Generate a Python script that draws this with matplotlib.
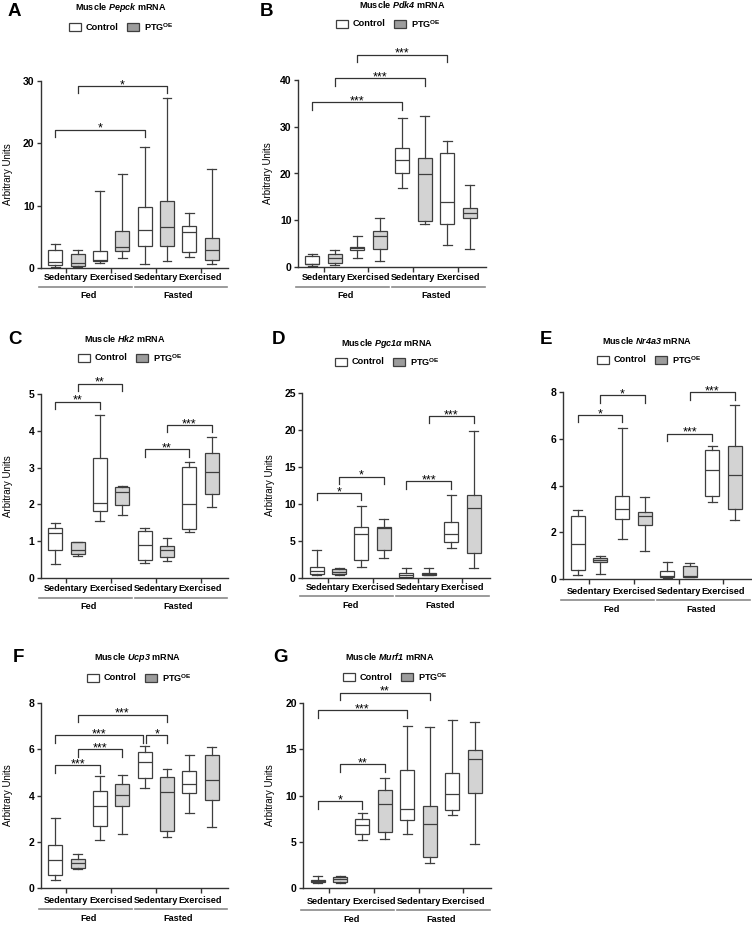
import matplotlib
matplotlib.use("Agg")
import matplotlib.pyplot as plt
from matplotlib.patches import Rectangle
from matplotlib.transforms import ScaledTranslation

plt.rcParams['font.family'] = 'Liberation Sans'
plt.rcParams['mathtext.fontset'] = 'custom'
plt.rcParams['mathtext.it'] = 'Liberation Sans:italic:bold'
plt.rcParams['mathtext.rm'] = 'Liberation Sans:italic:bold'
plt.rcParams['mathtext.bf'] = 'Liberation Sans:bold'

W, H = 752, 925

# order of boxes: Fed Sed Ctrl, Fed Sed PTG, Fed Ex Ctrl, Fed Ex PTG,
#                 Fasted Sed Ctrl, Fasted Sed PTG, Fasted Ex Ctrl, Fasted Ex PTG
exercise_labels = ["Sedentary", "Exercised", "Sedentary", "Exercised"]
feeding_labels = ["Fed", "Fasted"]
series_labels = ["Control", r"PTG$^{\mathbf{OE}}$"]

# --- A: Pepck ---
pepck_low = [0.15, 0.15, 0.8, 1.6, 0.7, 1.1, 1.8, 0.6]
pepck_q1 = [0.45, 0.3, 1.05, 2.7, 3.6, 3.6, 2.6, 1.25]
pepck_med = [0.9, 0.8, 1.3, 3.4, 6.15, 6.5, 5.85, 2.85]
pepck_q3 = [2.95, 2.3, 2.7, 5.95, 9.85, 10.8, 6.8, 4.75]
pepck_high = [3.9, 2.95, 12.3, 15.05, 19.4, 27.2, 8.9, 15.9]
pepck_sig = [(1, 5, 22.2, '*'), (2, 6, 29.2, '*')]

# --- B: Pdk4 ---
pdk4_low = [0.2, 0.5, 2.0, 1.35, 17.0, 9.3, 4.8, 3.9]
pdk4_q1 = [0.55, 0.95, 3.7, 3.9, 20.1, 9.9, 9.1, 10.4]
pdk4_med = [0.7, 2.0, 4.05, 6.7, 22.9, 19.8, 13.9, 11.6]
pdk4_q3 = [2.3, 2.85, 4.3, 7.6, 25.4, 23.4, 24.3, 12.6]
pdk4_high = [2.85, 3.6, 6.6, 10.4, 31.9, 32.3, 27.0, 17.6]
pdk4_sig = [(1, 5, 35.2, '***'), (2, 6, 40.4, '***'), (3, 7, 45.4, '***')]

# --- C: Hk2 ---
hk2_low = [0.38, 0.6, 1.55, 1.71, 0.42, 0.45, 1.24, 1.92]
hk2_q1 = [0.75, 0.64, 1.81, 1.98, 0.48, 0.57, 1.32, 2.27]
hk2_med = [1.22, 0.76, 2.03, 2.35, 0.91, 0.75, 2.0, 2.87]
hk2_q3 = [1.35, 0.97, 3.25, 2.46, 1.29, 0.88, 3.01, 3.39]
hk2_high = [1.5, 0.98, 4.42, 2.5, 1.37, 1.08, 3.15, 3.83]
hk2_sig = [(1, 3, 4.79, '**'), (2, 4, 5.28, '**'), (5, 7, 3.5, '**'), (6, 8, 4.16, '***')]

# --- D: Pgc1a ---
pgc1a_low = [0.4, 0.4, 1.5, 2.7, 0.05, 0.35, 4.0, 1.4]
pgc1a_q1 = [0.5, 0.5, 2.5, 3.8, 0.2, 0.45, 4.8, 3.4]
pgc1a_med = [0.9, 0.8, 5.9, 6.7, 0.45, 0.55, 6.0, 9.5]
pgc1a_q3 = [1.55, 1.2, 6.9, 6.9, 0.65, 0.65, 7.6, 11.2]
pgc1a_high = [3.75, 1.4, 9.7, 8.0, 1.35, 1.35, 11.2, 19.9]
pgc1a_sig = [(1, 3, 11.5, '*'), (2, 4, 13.7, '*'), (5, 7, 13.1, '***'), (6, 8, 21.9, '***')]

# --- E: Nr4a3 ---
nr4a3_low = [0.19, 0.23, 1.71, 1.2, 0.04, 0.07, 3.3, 2.51]
nr4a3_q1 = [0.37, 0.74, 2.57, 2.3, 0.07, 0.09, 3.57, 3.0]
nr4a3_med = [1.5, 0.83, 3.0, 2.68, 0.11, 0.14, 4.65, 4.47]
nr4a3_q3 = [2.68, 0.9, 3.54, 2.87, 0.34, 0.54, 5.5, 5.68]
nr4a3_high = [2.97, 0.97, 6.45, 3.5, 0.71, 0.67, 5.68, 7.43]
nr4a3_sig = [(1, 3, 7.02, '*'), (2, 4, 7.86, '*'), (5, 7, 6.22, '***'), (6, 8, 7.99, '***')]

# --- F: Ucp3 ---
ucp3_low = [0.33, 0.84, 2.07, 2.32, 4.31, 2.21, 3.23, 2.62]
ucp3_q1 = [0.55, 0.88, 2.68, 3.56, 4.75, 2.47, 4.1, 3.81]
ucp3_med = [1.2, 1.06, 3.55, 4.02, 5.44, 4.17, 4.5, 4.65]
ucp3_q3 = [1.85, 1.27, 4.21, 4.49, 5.9, 4.82, 5.04, 5.73]
ucp3_high = [3.01, 1.49, 4.85, 4.89, 6.12, 5.14, 5.73, 6.09]
ucp3_sig = [(1, 3, 5.3, '***'), (2, 4, 6.0, '***'), (1, 4.92, 6.6, '***'),
            (5.08, 6, 6.6, '*'), (2, 6, 7.5, '***')]

# --- G: Murf1 ---
murf1_low = [0.55, 0.5, 5.24, 5.35, 5.79, 2.75, 7.88, 4.81]
murf1_q1 = [0.7, 0.6, 5.79, 6.08, 7.34, 3.36, 8.43, 10.27]
murf1_med = [0.8, 1.0, 6.8, 9.04, 8.57, 6.9, 10.13, 13.92]
murf1_q3 = [0.9, 1.2, 7.41, 10.56, 12.8, 8.86, 12.44, 14.94]
murf1_high = [1.3, 1.3, 8.07, 11.86, 17.5, 17.36, 18.19, 17.97]
murf1_sig = [(1, 3, 9.4, '*'), (2, 4, 13.38, '**'), (1, 5, 19.2, '***'), (2, 6, 21.1, '**')]

CTRL_FACE = 'white'
PTG_FACE = '#d3d3d3'
PTG_LEG = '#9c9c9c'
EDGE = '#3e3e3e'

fig = plt.figure(figsize=(W / 100, H / 100), dpi=100)


def fx(x):
    return x / W


def fy(y):
    return 1 - y / H


def panel(letter, gene, stats, sig, ytop, yticks, box, title_xy, leg_xy, letter_xy, ylab_x, drop):
    left, right, top, bottom = box
    ax = fig.add_axes([fx(left), fy(bottom), (right - left) / W, (bottom - top) / H])
    low, q1, med, q3, high = stats
    bstats = [dict(whislo=low[k], q1=q1[k], med=med[k], q3=q3[k], whishi=high[k])
              for k in range(8)]
    arts = ax.bxp(bstats, positions=range(1, 9), widths=0.62, capwidths=0.4,
                  showfliers=False, patch_artist=True,
                  boxprops=dict(edgecolor=EDGE, linewidth=0.9),
                  medianprops=dict(color=EDGE, linewidth=0.9),
                  whiskerprops=dict(color=EDGE, linewidth=0.9),
                  capprops=dict(color=EDGE, linewidth=0.9))
    for k, patch in enumerate(arts['boxes']):
        patch.set_facecolor(CTRL_FACE if k % 2 == 0 else PTG_FACE)

    ax.set_xlim(0.35, 8.73)
    ax.set_ylim(0, ytop)
    ax.set_yticks(yticks)
    ax.set_xticks([1.5, 3.5, 5.5, 7.5])
    ax.set_xticklabels([])
    for s in ['top', 'right']:
        ax.spines[s].set_visible(False)
    for s in ['left', 'bottom']:
        ax.spines[s].set_linewidth(1.0)
        ax.spines[s].set_color('#333333')
    ax.tick_params(axis='y', direction='out', length=3, width=1, labelsize=7.5, pad=1.5, color='#333333')
    ax.tick_params(axis='x', direction='out', length=3.5, width=1, color='#333333')
    for t in ax.get_yticklabels():
        t.set_fontweight('bold')

    def down(px):
        return ax.get_xaxis_transform() + ScaledTranslation(0, -px / 100, fig.dpi_scale_trans)

    for xpos, lab in zip([1.5, 3.5, 5.5, 7.5], exercise_labels):
        ax.text(xpos, 0, lab, transform=down(drop), ha='center', va='center',
                fontsize=6.6, fontweight='bold')
    ax.plot([0.28, 4.42], [0, 0], transform=down(drop + 9), color='#8a8a8a', lw=1.2, clip_on=False)
    ax.plot([4.55, 8.7], [0, 0], transform=down(drop + 9), color='#8a8a8a', lw=1.2, clip_on=False)
    for xpos, lab in zip([2.5, 6.5], feeding_labels):
        ax.text(xpos, 0, lab, transform=down(drop + 18), ha='center', va='center',
                fontsize=6.6, fontweight='bold')

    leg = 7.5 * ytop / (bottom - top)
    for i, j, h, stars in sig:
        ax.plot([i, i, j, j], [h - leg, h, h, h - leg], color='#333333', lw=0.9, clip_on=False)
        ax.annotate(stars, xy=((i + j) / 2, h), xytext=(0, -1.5), textcoords='offset points',
                    ha='center', va='baseline', fontsize=9, annotation_clip=False)

    if ylab_x is not None:
        fig.text(fx(ylab_x), fy((top + bottom) / 2), 'Arbitrary Units', rotation=90,
                 ha='center', va='center', fontsize=7)

    fig.text(fx(letter_xy[0]), fy(letter_xy[1]), letter, fontsize=13.5, fontweight='bold',
             ha='left', va='center')
    fig.text(fx(title_xy[0]), fy(title_xy[1]), 'Muscle $\\mathrm{' + gene + '}$ mRNA',
             fontsize=6.5, fontweight='bold', ha='center', va='center')

    lx, ly = leg_xy
    for off, face, lab in [(0, CTRL_FACE, series_labels[0]), (58, PTG_LEG, series_labels[1])]:
        fig.patches.append(Rectangle((fx(lx + off), fy(ly + 4)), 12 / W, 8 / H, transform=fig.transFigure,
                                     facecolor=face, edgecolor=EDGE, linewidth=0.9))
        fig.text(fx(lx + off + 17), fy(ly), lab, fontsize=6.6, fontweight='bold', ha='left', va='center')
    return ax


panel('A', 'Pepck', (pepck_low, pepck_q1, pepck_med, pepck_q3, pepck_high), pepck_sig,
      30, [0, 10, 20, 30], (40.7, 228, 81, 268), (121, 7), (69, 27), (8, 11), 8, 9.6)
panel('B', 'Pdk4', (pdk4_low, pdk4_q1, pdk4_med, pdk4_q3, pdk4_high), pdk4_sig,
      40, [0, 10, 20, 30, 40], (297.7, 486, 80, 267), (402, 5), (336, 24), (260, 11), 268, 10.7)
panel('C', 'Hk2', (hk2_low, hk2_q1, hk2_med, hk2_q3, hk2_high), hk2_sig,
      5, [0, 1, 2, 3, 4, 5], (40.7, 228, 394, 578), (125, 338), (78, 358), (8, 340), 8, 10.7)
panel('D', 'Pgc1α', (pgc1a_low, pgc1a_q1, pgc1a_med, pgc1a_q3, pgc1a_high), pgc1a_sig,
      25, [0, 5, 10, 15, 20, 25], (302, 490, 393, 578), (387, 343), (335, 362), (272, 340), 270, 9.0)
panel('E', 'Nr4a3', (nr4a3_low, nr4a3_q1, nr4a3_med, nr4a3_q3, nr4a3_high), nr4a3_sig,
      8, [0, 2, 4, 6, 8], (563, 751, 392, 579), (647, 340), (597, 360), (540, 340), None, 12.3)
panel('F', 'Ucp3', (ucp3_low, ucp3_q1, ucp3_med, ucp3_q3, ucp3_high), ucp3_sig,
      8, [0, 2, 4, 6, 8], (40.7, 228, 703, 888), (137, 658), (87, 678), (13, 657), 8, 12.3)
panel('G', 'Murf1', (murf1_low, murf1_q1, murf1_med, murf1_q3, murf1_high), murf1_sig,
      20, [0, 5, 10, 15, 20], (303, 491, 703, 888), (390, 657), (343, 677), (273, 657), 270, 13.0)

fig.savefig('out.png', dpi=100, facecolor='white')
